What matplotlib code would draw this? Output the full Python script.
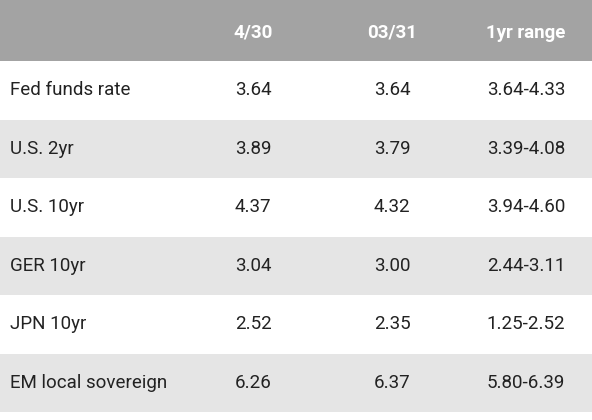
import matplotlib
matplotlib.use("Agg")
import matplotlib.pyplot as plt
from matplotlib.patches import Rectangle

headers = ["", "4/30", "03/31", "1yr range"]
labels = ["Fed funds rate", "U.S. 2yr", "U.S. 10yr", "GER 10yr", "JPN 10yr", "EM local sovereign"]
col_apr = ["3.64", "3.89", "4.37", "3.04", "2.52", "6.26"]
col_mar = ["3.64", "3.79", "4.32", "3.00", "2.35", "6.37"]
col_range = ["3.64-4.33", "3.39-4.08", "3.94-4.60", "2.44-3.11", "1.25-2.52", "5.80-6.39"]

W, H = 592, 420
fig = plt.figure(figsize=(W/100, H/100), dpi=100)
ax = fig.add_axes([0, 0, 1, 1])
ax.set_xlim(0, W); ax.set_ylim(H, 0); ax.axis("off")

hdr_h = 61
row_h = 58.5
xs = [253, 392, 526]
fam = ["Roboto", "DejaVu Sans"]
ax.add_patch(Rectangle((0, 0), W, hdr_h, color="#a3a3a3", lw=0))
for x, h in zip(xs, headers[1:]):
    ax.text(x, hdr_h/2 + 2, h, ha="center", va="center", color="white",
            fontsize=13.5, fontweight="bold", family=fam)
for i, lab in enumerate(labels):
    y0 = hdr_h + i*row_h
    if i % 2 == 1:
        ax.add_patch(Rectangle((0, y0), W, row_h, color="#e5e5e5", lw=0))
    yc = y0 + row_h/2
    ax.text(10, yc, lab, ha="left", va="center", fontsize=13.5, color="#222222", family=fam)
    for x, v in zip(xs, [col_apr[i], col_mar[i], col_range[i]]):
        ax.text(x, yc, v, ha="center", va="center", fontsize=13.5, color="#222222", family=fam)
fig.savefig("out.png", dpi=100)
